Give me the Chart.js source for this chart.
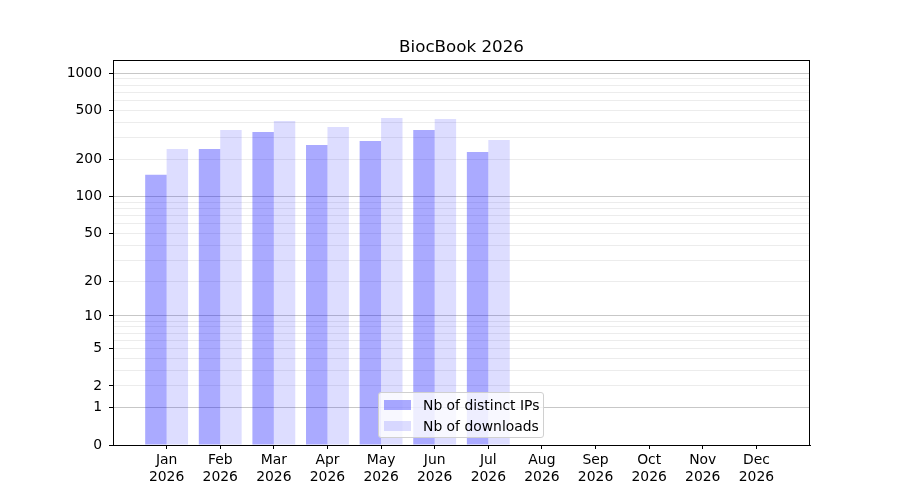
<!DOCTYPE html>
<html>
<head>
<meta charset="utf-8">
<title>BiocBook 2026</title>
<script src="https://cdn.jsdelivr.net/npm/chart.js@4.4.1/dist/chart.umd.min.js"></script>
<style>
    body { margin: 0; background: #fff; }
    #wrap { position: relative; width: 900px; height: 500px; }
    #legend {
        position: absolute; left: 378px; top: 392px; width: 164px; height: 44px;
        border: 1px solid #d0d0d0; border-radius: 3px; background: rgba(255,255,255,0.8);
        font-family: "DejaVu Sans", sans-serif; font-size: 13.9px; color: #000;
    }
    #legend .row { position: absolute; left: 5px; height: 21px; line-height: 21px; white-space: nowrap; }
    #legend .sw { display: inline-block; width: 27px; height: 10px; vertical-align: middle; margin-right: 12px; position: relative; top: -1px; }
</style>
</head>
<body>
<div id="wrap">
    <canvas id="chart" width="900" height="500"></canvas>
    <div id="legend"></div>
</div>
<script>
// data
const months = ["Jan", "Feb", "Mar", "Apr", "May", "Jun", "Jul", "Aug", "Sep", "Oct", "Nov", "Dec"];
const year = "2026";
const distinctIPs = [151, 244, 335, 263, 283, 348, 231];
const downloads = [244, 348, 412, 368, 435, 427, 289];
const yTickLabels = [0, 1, 2, 5, 10, 20, 50, 100, 200, 500, 1000];
const yMajorGrid = [1, 10, 100, 1000];
const yMinorSubs = [2, 3, 4, 5, 6, 7, 8, 9];
const yTop = 1280;

const seriesNames = ["Nb of distinct IPs", "Nb of downloads"];
const seriesColors = ["rgba(0,0,255,0.333)", "rgba(0,0,255,0.133)"];

// y axis is log10(1 + x)
const tr = (v) => Math.log10(1 + v);
const same = (a, b) => Math.abs(a - b) < 1e-9;

// grid values: 0, majors and 2..9 subdivisions of each decade
let gridValues = [0];
yMajorGrid.forEach((d) => {
    gridValues.push(d);
    if (d < 1000) yMinorSubs.forEach((s) => gridValues.push(d * s));
});

// one empty slot on each side, like the reference x limits
const labels = [""].concat(months.map((m) => [m, year]), [""]);
function padded(values) {
    const out = labels.map(() => null);
    values.forEach((v, i) => { out[i + 1] = tr(v); });
    return out;
}

const FONT = { family: "DejaVu Sans", size: 13.9 };

const frame = {
    id: "frame",
    afterDraw(chart) {
        const { ctx, chartArea: a } = chart;
        ctx.save();
        ctx.strokeStyle = "#000";
        ctx.lineWidth = 1;
        ctx.strokeRect(Math.round(a.left) + 0.5, Math.round(a.top) + 0.5,
            Math.round(a.right - a.left) - 1, Math.round(a.bottom - a.top));
        ctx.restore();
    },
};

new Chart(document.getElementById("chart"), {
    type: "bar",
    data: {
        labels: labels,
        datasets: [
            { label: seriesNames[0], data: padded(distinctIPs), backgroundColor: seriesColors[0], borderWidth: 0 },
            { label: seriesNames[1], data: padded(downloads), backgroundColor: seriesColors[1], borderWidth: 0 },
        ],
    },
    options: {
        responsive: false,
        animation: false,
        devicePixelRatio: 1,
        layout: { padding: { left: 0, right: 90, top: 0, bottom: 0 } },
        datasets: { bar: { categoryPercentage: 0.8, barPercentage: 1.0 } },
        plugins: {
            legend: { display: false },
            tooltip: { enabled: false },
            title: {
                display: true,
                fullSize: false,
                text: "BiocBook 2026",
                color: "#000",
                font: { family: "DejaVu Sans", size: 16.7, weight: "normal" },
                padding: { top: 38, bottom: 2 },
            },
        },
        scales: {
            x: {
                offset: false,
                afterFit: (s) => { s.height = 55; },
                border: { color: "#000", width: 1 },
                grid: {
                    offset: false,
                    drawOnChartArea: false,
                    tickLength: 4,
                    tickColor: (c) => (c.index === 0 || c.index === labels.length - 1) ? "rgba(0,0,0,0)" : "#000",
                },
                ticks: { color: "#000", font: FONT, padding: 3, maxRotation: 0, autoSkip: false },
            },
            y: {
                min: 0,
                max: tr(yTop),
                afterFit: (s) => { s.width = 113; },
                afterBuildTicks: (s) => { s.ticks = gridValues.map((v) => ({ value: tr(v) })); },
                border: { color: "#000", width: 1 },
                grid: {
                    tickLength: 4,
                    color: (c) => {
                        const v = c.tick.value;
                        if (same(v, 0)) return "rgba(0,0,0,0)";
                        return yMajorGrid.some((m) => same(tr(m), v)) ? "rgba(0,0,0,0.22)" : "rgba(0,0,0,0.075)";
                    },
                    tickColor: (c) => yTickLabels.some((m) => same(tr(m), c.tick.value)) ? "#000" : "rgba(0,0,0,0)",
                },
                ticks: {
                    color: "#000",
                    font: FONT,
                    padding: 7,
                    autoSkip: false,
                    callback: (value) => {
                        const hit = yTickLabels.find((m) => same(tr(m), value));
                        return hit === undefined ? "" : String(hit);
                    },
                },
            },
        },
    },
    plugins: [frame],
});

// legend drawn as html, placed inside the plot like the reference
const legend = document.getElementById("legend");
seriesNames.forEach((name, i) => {
    const row = document.createElement("div");
    row.className = "row";
    row.style.top = (2 + i * 21) + "px";
    row.innerHTML = '<span class="sw" style="background:' + seriesColors[i] + '"></span>' + name;
    legend.appendChild(row);
});
</script>
</body>
</html>
